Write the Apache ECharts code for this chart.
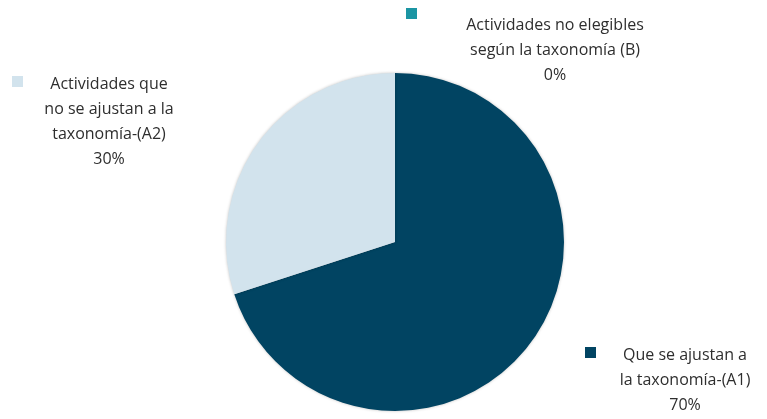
<!DOCTYPE html>
<html>
<head>
<meta charset="utf-8">
<script src="https://cdn.jsdelivr.net/npm/echarts@6/dist/echarts.min.js"></script>
<style>
  html, body { margin: 0; padding: 0; background: #fff; }
  #chart { width: 767px; height: 419px; }
</style>
</head>
<body>
<div id="chart"></div>
<script>
// datos del gráfico
const categories = [
  'Que se ajustan a\nla taxonomía-(A1)',
  'Actividades que\nno se ajustan a la\ntaxonomía-(A2)',
  'Actividades no elegibles\nsegún la taxonomía (B)'
];
const values = [70, 30, 0];
const colors = ['#014462', '#d2e3ed', '#1b95a3'];

// posición de cada etiqueta (centro del texto, parte superior) y su cuadrado
const labelPos = [
  { x: 685, y: 343 },
  { x: 109, y: 72 },
  { x: 555, y: 13 }
];
const markerPos = [
  { left: 585, top: 347 },
  { left: 12, top: 76 },
  { left: 406, top: 8 }
];

const chart = echarts.init(document.getElementById('chart'));

// un legend por categoría, sólo el cuadrado
const legends = categories.map((name, i) => ({
  data: [name],
  left: markerPos[i].left,
  top: markerPos[i].top,
  padding: 0,
  icon: 'rect',
  itemWidth: 11,
  itemHeight: 11,
  selectedMode: false,
  formatter: () => ''
}));

chart.setOption({
  animation: false,
  color: colors,
  legend: legends,
  series: [{
    type: 'pie',
    center: [395, 242],
    radius: 169,
    startAngle: 90,
    clockwise: true,
    avoidLabelOverlap: false,
    itemStyle: {
      shadowBlur: 3,
      shadowColor: 'rgba(0,0,0,0.25)'
    },
    label: {
      show: true,
      formatter: p => p.name + '\n' + Math.round(p.percent) + '%',
      fontFamily: 'Open Sans',
      fontSize: 16,
      lineHeight: 25,
      color: '#2e2e2e',
      align: 'center'
    },
    labelLine: { show: false },
    labelLayout: p => ({
      x: labelPos[p.dataIndex].x,
      y: labelPos[p.dataIndex].y,
      align: 'center',
      verticalAlign: 'top'
    }),
    data: categories.map((name, i) => ({ name: name, value: values[i] }))
  }]
});
</script>
</body>
</html>
